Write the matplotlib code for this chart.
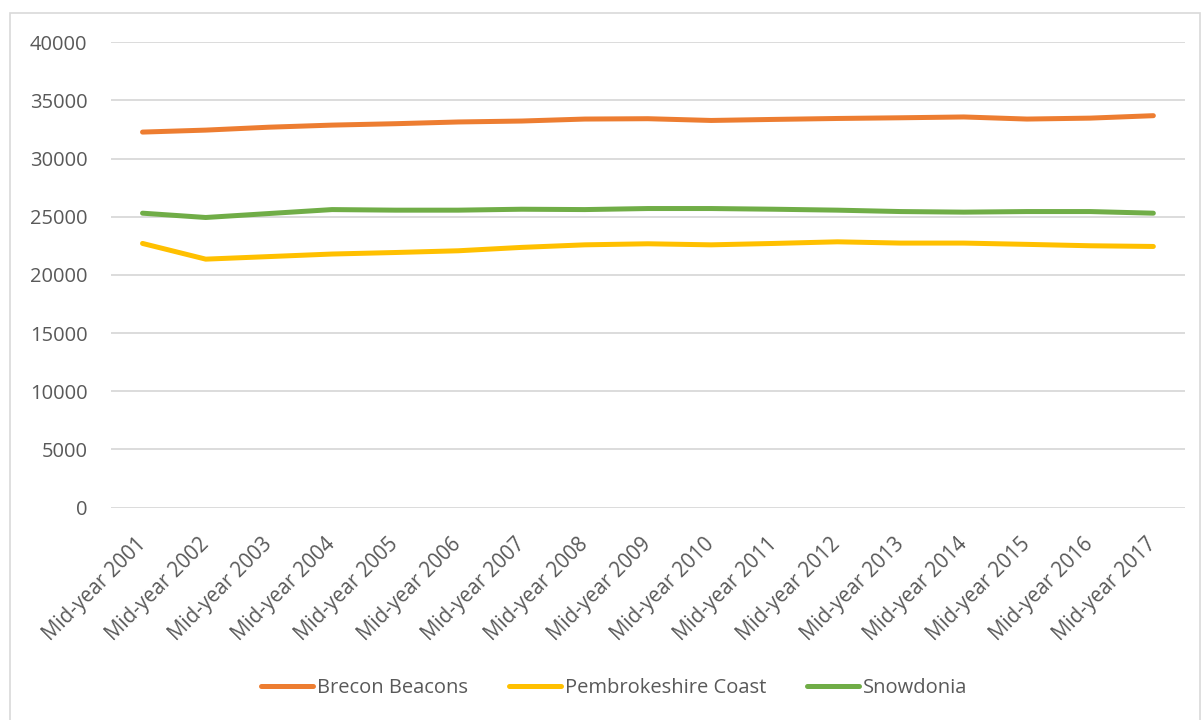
import matplotlib
matplotlib.use("Agg")
import matplotlib.pyplot as plt
from matplotlib.patches import Rectangle
from matplotlib.transforms import ScaledTranslation

years = [f"Mid-year {y}" for y in range(2001, 2018)]

brecon = [32280, 32450, 32700, 32880, 33000, 33150, 33230, 33400, 33430,
          33280, 33370, 33450, 33510, 33580, 33400, 33480, 33690]
pembrokeshire = [22710, 21360, 21580, 21800, 21930, 22080, 22370, 22590, 22680,
                 22590, 22710, 22850, 22740, 22740, 22630, 22510, 22450]
snowdonia = [25310, 24940, 25280, 25620, 25570, 25570, 25650, 25620, 25710,
             25710, 25650, 25570, 25450, 25400, 25450, 25450, 25310]

series = [
    ("Brecon Beacons", brecon, "#ED7D31"),
    ("Pembrokeshire Coast", pembrokeshire, "#FFC000"),
    ("Snowdonia", snowdonia, "#70AD47"),
]

plt.rcParams["font.family"] = ["Open Sans", "DejaVu Sans"]
text_color = "#595959"

fig = plt.figure(figsize=(12.02, 7.2), dpi=100)
# chart area border
fig.patches.append(Rectangle((10 / 1202, -0.01), 1190 / 1202, 1 - 13 / 720 + 0.01,
                             transform=fig.transFigure, fill=False,
                             edgecolor="#d9d9d9", linewidth=1.2))

ax = fig.add_axes([0.0923, 0.2949, 0.8935, 0.6464])
x = range(len(years))
for name, vals, color in series:
    ax.plot(x, vals, color=color, linewidth=3.6, label=name,
            solid_capstyle="round", solid_joinstyle="round")

ax.set_ylim(0, 40000)
ax.set_yticks(range(0, 40001, 5000))
ax.set_xlim(-0.5, len(years) - 0.5)
ax.set_xticks(list(x))
ax.set_xticklabels(years, rotation=45, ha="right", va="center",
                   rotation_mode="anchor")
# nudge the slanted labels a little to the left
shift = ScaledTranslation(-3 / 100, 0, fig.dpi_scale_trans)
for lbl in ax.get_xticklabels():
    lbl.set_transform(lbl.get_transform() + shift)
ax.grid(axis="y", color="#d9d9d9", linewidth=1.3)
ax.set_axisbelow(True)
for s in ax.spines.values():
    s.set_visible(False)
ax.tick_params(axis="y", length=0, pad=17, labelsize=14.5, labelcolor=text_color)
ax.tick_params(axis="x", length=0, pad=24, labelsize=14.8, labelcolor=text_color)

fig.legend(loc="center", bbox_to_anchor=(0.511, 1 - 688 / 720), ncol=3,
           frameon=False, fontsize=14.5, handlelength=2.6, columnspacing=2.0,
           handletextpad=0.2, labelcolor=text_color)

fig.savefig("out.png", dpi=100)
